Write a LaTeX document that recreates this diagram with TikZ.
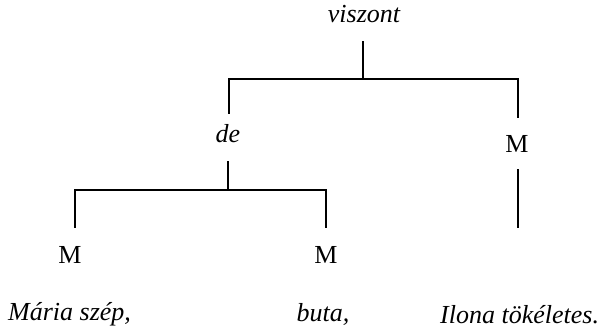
\documentclass[tikz,border=0pt]{standalone}
\usepackage{fontspec}
\setmainfont{Liberation Serif}
\begin{document}
\begin{tikzpicture}[x=1pt,y=-1pt,
  lbl/.style={inner sep=0pt,anchor=base,font=\fontsize{26}{30}\selectfont},
  wrd/.style={lbl,font=\fontsize{26}{30}\selectfont\itshape},
  br/.style={line width=1.6pt,line cap=rect}]
\useasboundingbox (0,0) rectangle (604,336);
% labels
\node[wrd] (viszont) at (364,23) {viszont};
\node[wrd] (de) at (228,143) {de};
\node[lbl] (m1) at (70,263) {M};
\node[lbl] (m2) at (326,263) {M};
\node[lbl] (m3) at (517,153) {M};
\node[wrd,anchor=base west] (maria) at (8,320) {Mária szép,};
\node[wrd] (buta) at (323,321) {buta,};
\node[wrd,anchor=base west] (ilona) at (440,323) {Ilona tökéletes.};
% junction points
\coordinate (a0) at (363,42);
\coordinate (a1) at (363,79);
\coordinate (aL) at (229,79);
\coordinate (aR) at (518,79);
\coordinate (aLe) at (229,113);
\coordinate (aRe) at (518,117);
\coordinate (b0) at (228,162);
\coordinate (b1) at (228,190);
\coordinate (bL) at (75,190);
\coordinate (bR) at (326,190);
\coordinate (bLe) at (75,227);
\coordinate (bRe) at (326,227);
\coordinate (c0) at (518,170);
\coordinate (c1) at (518,227);
% connectors
\draw[br] (a0) -- (a1);
\draw[br] (aLe) -- (aL) -- (aR) -- (aRe);
\draw[br] (b0) -- (b1);
\draw[br] (bLe) -- (bL) -- (bR) -- (bRe);
\draw[br] (c0) -- (c1);
\end{tikzpicture}
\end{document}
